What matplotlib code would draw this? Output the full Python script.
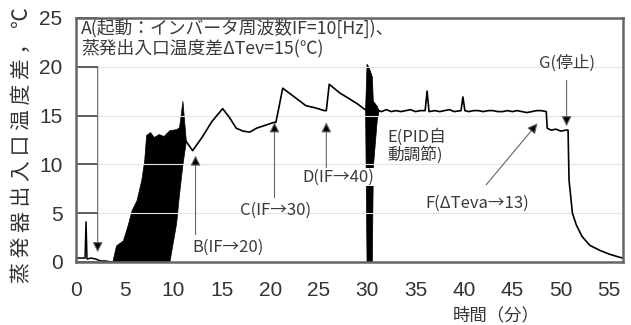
import matplotlib
matplotlib.use('Agg')
import matplotlib.pyplot as plt

plt.rcParams['font.family'] = ['Noto Sans CJK JP', 'DejaVu Sans']

# 起動直後 (0〜3.6分)
t_start = [0, 0.9, 1.0, 1.1, 1.5, 2.0, 2.5, 3.0, 3.6]
v_start = [0.4, 0.4, 4.1, 0.3, 0.4, 0.3, 0.1, 0.1, 0.0]

# ハンチング区間の包絡線 (3.7〜11.3分)
t_osc = [3.7, 4.1, 4.8, 5.3, 5.7, 6.2, 6.7, 7.0, 7.2, 7.6, 8.0, 8.5, 9.0, 9.6, 10.3, 10.6, 10.95, 11.3]
osc_hi = [0.0, 1.7, 2.2, 3.8, 5.3, 6.3, 8.4, 10.4, 13.0, 13.3, 12.8, 13.1, 12.9, 13.5, 13.6, 13.8, 16.5, 12.4]
osc_lo = [0.0, 0.0, 0.0, 0.0, 0.0, 0.0, 0.0, 0.0, 0.0, 0.0, 0.0, 0.0, 0.0, 0.0, 4.0, 7.0, 10.0, 12.4]

# 30分付近の乱れ
t_burst = [29.8, 29.95, 30.15, 30.5, 30.6, 31.0, 31.2]
burst_hi = [15.6, 20.3, 20.0, 19.0, 16.5, 16.0, 15.5]
burst_lo = [15.6, 0.0, 0.0, 0.0, 9.7, 14.5, 15.5]

# 11分以降
t_main = [11.3, 12.0, 13.0, 14.0, 15.1, 15.8, 16.5, 17.2, 17.9, 18.6, 19.5, 20.4, 20.6,
          21.3, 22.5, 23.7, 24.6, 25.6, 25.8, 26.1, 27.2, 28.2, 29.0, 29.8,
          31.2, 31.5, 32.0, 32.5, 33.0, 33.5, 34.0, 34.5, 35.0, 35.5, 36.0, 36.2, 36.4,
          37.0, 37.5, 38.0, 38.5, 39.0, 39.7, 39.9, 40.1, 40.5, 41.0, 41.5, 42.0, 42.5,
          43.0, 43.5, 44.0, 44.5, 45.0, 45.5, 46.0, 46.5, 47.0, 47.5, 48.0, 48.5,
          48.6, 49.0, 49.5, 50.0, 50.5, 50.75,
          50.85, 51.2, 51.6, 52.2, 53.0, 54.0, 55.0, 56.0, 56.4]
v_main = [12.4, 11.4, 12.8, 14.4, 15.7, 14.8, 13.7, 13.4, 13.3, 13.7, 14.0, 14.3, 14.3,
          17.8, 16.9, 16.0, 15.8, 15.5, 15.5, 18.2, 17.3, 16.7, 16.2, 15.6,
          15.5, 15.4, 15.6, 15.4, 15.5, 15.4, 15.5, 15.6, 15.4, 15.5, 15.5, 17.5, 15.4,
          15.5, 15.4, 15.5, 15.6, 15.4, 15.5, 16.9, 15.5, 15.4, 15.5, 15.5, 15.4, 15.5,
          15.5, 15.4, 15.4, 15.5, 15.4, 15.5, 15.4, 15.3, 15.4, 15.5, 15.5, 15.4,
          13.7, 13.5, 13.6, 13.4, 13.5, 13.5,
          8.4, 5.0, 3.8, 2.6, 1.7, 1.2, 0.8, 0.5, 0.4]

x_ticks = [0, 5, 10, 15, 20, 25, 30, 35, 40, 45, 50, 55]
y_ticks = [0, 5, 10, 15, 20, 25]

fig = plt.figure(figsize=(6.31, 3.25), dpi=100)
ax = fig.add_axes([0.121, 0.194, 0.866, 0.751])

ax.fill_between(t_osc, osc_lo, osc_hi, color='black', lw=0.5)
ax.fill_between(t_burst, burst_lo, burst_hi, color='black', lw=0.5)
ax.plot(t_start, v_start, color='black', lw=1.1)
ax.plot(t_main, v_main, color='black', lw=1.2)

ax.set_xlim(0, 56.4)
ax.set_ylim(0, 25)
ax.set_xticks(x_ticks)
ax.set_yticks(y_ticks)
ax.tick_params(axis='x', length=0, pad=14, labelsize=15, colors='#333')
ax.tick_params(axis='y', direction='in', length=16, width=1.2, color='#444',
               pad=10, labelsize=15, labelcolor='#333')
for lab in ax.get_xticklabels() + ax.get_yticklabels():
    lab.set_fontfamily('Liberation Sans')
ax.yaxis.grid(True, color='#e4e4e4', lw=0.8)
for s in ax.spines.values():
    s.set_color('#666')
    s.set_linewidth(1.8)

txt = dict(fontsize=12, color='#3a3a3a')
ax.text(0.5, 23.9, 'A(起動：インバータ周波数IF=10[Hz])、', va='center', ha='left',
        fontsize=12.8, color='#3a3a3a')
ax.text(0.5, 21.9, '蒸発出入口温度差ΔTev=15(℃)', va='center', ha='left',
        fontsize=12.8, color='#3a3a3a')


def arrow(x0, y0, x1, y1):
    ax.annotate('', xy=(x1, y1), xytext=(x0, y0),
                arrowprops=dict(arrowstyle='-|>', lw=0.8, ec='#666', fc='black',
                                mutation_scale=15, shrinkA=0, shrinkB=0))


arrow(2.2, 20, 2.2, 1.0)
arrow(12.3, 2.8, 12.3, 10.9)
arrow(20.45, 6.6, 20.45, 14.3)
arrow(25.8, 9.6, 25.8, 14.3)
arrow(42.3, 7.9, 47.6, 14.2)
arrow(50.6, 18.6, 50.6, 13.9)

ax.text(12.0, 1.5, 'B(IF→20)', ha='left', va='center', **txt)
ax.text(20.6, 5.3, 'C(IF→30)', ha='center', va='center', **txt)
ax.text(23.3, 8.7, 'D(IF→40)', ha='left', va='center', zorder=5,
        bbox=dict(fc='white', ec='none', pad=0.5), **txt)
ax.text(32.1, 11.9, 'E(PID自\n動調節)', ha='left', va='center', linespacing=1.0, **txt)
ax.text(41.4, 6.0, 'F(ΔTeva→13)', ha='center', va='center', **txt)
ax.text(50.6, 20.4, 'G(停止)', ha='center', va='center', **txt)

fig.text(0.035, 0.554, '蒸 発 器 出 入 口 温 度 差 ， ℃', rotation=90,
         ha='center', va='center', fontsize=15, color='#333')
fig.text(496 / 631, 1 - 315 / 325, '時間（分）', ha='center', va='center',
         fontsize=12.5, color='#333')

fig.savefig('out.png', dpi=100)
